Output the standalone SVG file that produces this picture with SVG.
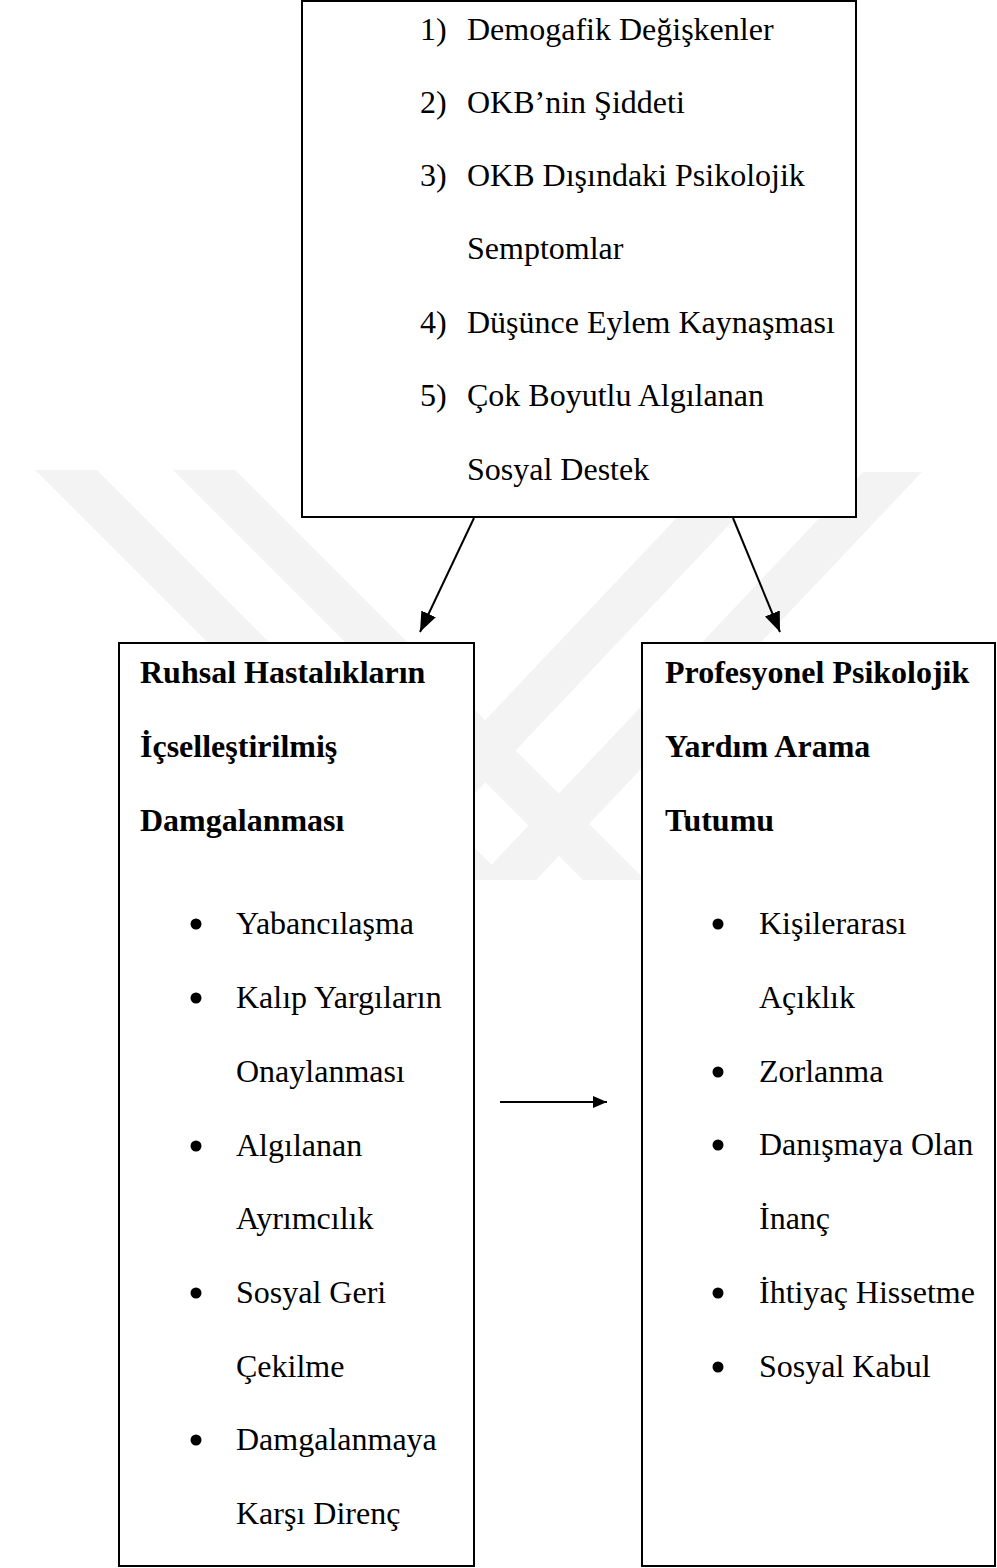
<svg xmlns="http://www.w3.org/2000/svg" width="997" height="1568" viewBox="0 0 997 1568">
<style>
.box{fill:#fff;stroke:#000;stroke-width:2}
.t{font-family:"Liberation Serif","Times New Roman",serif;font-size:32px;fill:#000}
.b{font-weight:bold}
.wm{fill:#f3f3f3}
.ln{stroke:#000;stroke-width:2;fill:none}
</style>
<defs>
<marker id="ah" markerWidth="14" markerHeight="12" refX="14" refY="6" orient="auto" markerUnits="userSpaceOnUse" viewBox="0 0 14 12">
<path d="M0,0 L14,6 L0,12 z" fill="#000"/>
</marker>
<marker id="ah2" markerWidth="20" markerHeight="16" refX="20" refY="8" orient="auto" markerUnits="userSpaceOnUse" viewBox="0 0 20 16">
<path d="M0,0 L20,8 L0,16 z" fill="#000"/>
</marker>
</defs>
<rect width="997" height="1568" fill="#fff"/>
<g id="watermark">
<polygon class="wm" points="35,470 97,470 507,880 445,880"/>
<polygon class="wm" points="173,470 235,470 645,880 583,880"/>
<polygon class="wm" points="863,472 922,472 536,880 477,880"/>
<polygon class="wm" points="720,472 779,472 393,880 334,880"/>
</g>
<g id="node-top">
<rect class="box" x="302" y="1" width="554" height="516"/>
<text class="t" x="420" y="40">1)</text><text class="t" x="467" y="40">Demogafik Değişkenler</text>
<text class="t" x="420" y="113">2)</text><text class="t" x="467" y="113">OKB’nin Şiddeti</text>
<text class="t" x="420" y="186">3)</text><text class="t" x="467" y="186">OKB Dışındaki Psikolojik</text>
<text class="t" x="467" y="259">Semptomlar</text>
<text class="t" x="420" y="333">4)</text><text class="t" x="467" y="333">Düşünce Eylem Kaynaşması</text>
<text class="t" x="420" y="406">5)</text><text class="t" x="467" y="406">Çok Boyutlu Algılanan</text>
<text class="t" x="467" y="480">Sosyal Destek</text>
</g>
<g id="node-left">
<rect class="box" x="119" y="643" width="355" height="923"/>
<text class="t b" x="140" y="683">Ruhsal Hastalıkların</text>
<text class="t b" x="140" y="757">İçselleştirilmiş</text>
<text class="t b" x="140" y="831">Damgalanması</text>
<circle cx="196" cy="924" r="5.5"/><text class="t" x="236" y="934">Yabancılaşma</text>
<circle cx="196" cy="998" r="5.5"/><text class="t" x="236" y="1008">Kalıp Yargıların</text>
<text class="t" x="236" y="1082">Onaylanması</text>
<circle cx="196" cy="1146" r="5.5"/><text class="t" x="236" y="1156">Algılanan</text>
<text class="t" x="236" y="1229">Ayrımcılık</text>
<circle cx="196" cy="1293" r="5.5"/><text class="t" x="236" y="1303">Sosyal Geri</text>
<text class="t" x="236" y="1377">Çekilme</text>
<circle cx="196" cy="1440" r="5.5"/><text class="t" x="236" y="1450">Damgalanmaya</text>
<text class="t" x="236" y="1524">Karşı Direnç</text>
</g>
<g id="node-right">
<rect class="box" x="642" y="643" width="353" height="923"/>
<text class="t b" x="665" y="683">Profesyonel Psikolojik</text>
<text class="t b" x="665" y="757">Yardım Arama</text>
<text class="t b" x="665" y="831">Tutumu</text>
<circle cx="718" cy="924" r="5.5"/><text class="t" x="759" y="934">Kişilerarası</text>
<text class="t" x="759" y="1008">Açıklık</text>
<circle cx="718" cy="1072" r="5.5"/><text class="t" x="759" y="1082">Zorlanma</text>
<circle cx="718" cy="1145" r="5.5"/><text class="t" x="759" y="1155">Danışmaya Olan</text>
<text class="t" x="759" y="1229">İnanç</text>
<circle cx="718" cy="1293" r="5.5"/><text class="t" x="759" y="1303">İhtiyaç Hissetme</text>
<circle cx="718" cy="1367" r="5.5"/><text class="t" x="759" y="1377">Sosyal Kabul</text>
</g>
<g id="connectors">
<line class="ln" x1="474" y1="518" x2="420" y2="632" marker-end="url(#ah2)"/>
<line class="ln" x1="733" y1="518" x2="780" y2="632" marker-end="url(#ah2)"/>
<line class="ln" x1="500" y1="1102" x2="607" y2="1102" marker-end="url(#ah)"/>
</g>
</svg>
